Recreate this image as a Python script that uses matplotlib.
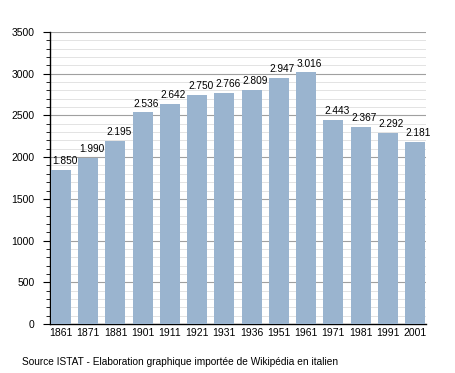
import matplotlib
matplotlib.use("Agg")
import matplotlib.pyplot as plt
from matplotlib.ticker import MultipleLocator

years = ["1861", "1871", "1881", "1901", "1911", "1921", "1931", "1936", "1951", "1961", "1971", "1981", "1991", "2001"]
population = [1850, 1990, 2195, 2536, 2642, 2750, 2766, 2809, 2947, 3016, 2443, 2367, 2292, 2181]
yticks = [0, 500, 1000, 1500, 2000, 2500, 3000, 3500]
source = "Source ISTAT - Elaboration graphique importée de Wikipédia en italien"

plt.rcParams['font.family'] = ['Liberation Sans', 'DejaVu Sans']

fig = plt.figure(figsize=(4.55, 3.73), dpi=100)
ax = fig.add_axes([50/455, 1-324/373, 376/455, 292/373])

x = list(range(len(years)))
bw = 0.735
ax.bar(x, population, width=bw, color='#9ab4cf', zorder=3)
for xi, v in zip(x, population):
    ax.text(xi - bw / 2 + 0.03, v + 45, f"{v/1000:.3f}", ha='left', va='bottom', fontsize=7.3, zorder=4)

ax.set_xlim(-0.404, len(years) - 1 + 0.404)
ax.set_ylim(0, 3500)
ax.set_xticks(x)
ax.set_xticklabels(years, fontsize=7.5)
ax.set_yticks(yticks)
ax.set_yticklabels([str(t) for t in yticks], fontsize=7.5)
ax.yaxis.set_minor_locator(MultipleLocator(100))
ax.tick_params(axis='x', length=0, pad=3)
ax.tick_params(axis='y', which='major', length=5, width=0.8, pad=6)
ax.tick_params(axis='y', which='minor', length=3, width=0.6)
ax.grid(axis='y', which='major', color='#a0a0a0', linewidth=0.8, zorder=1)
ax.grid(axis='y', which='minor', color='#e3e3e3', linewidth=0.7, zorder=0)
for s in ['top', 'right']:
    ax.spines[s].set_visible(False)
ax.spines['left'].set_linewidth(1.0)
ax.spines['bottom'].set_linewidth(1.0)

fig.text(22/455, 1-362/373, source, fontsize=7.3, va='center', ha='left')

fig.savefig("out.png", dpi=100)
